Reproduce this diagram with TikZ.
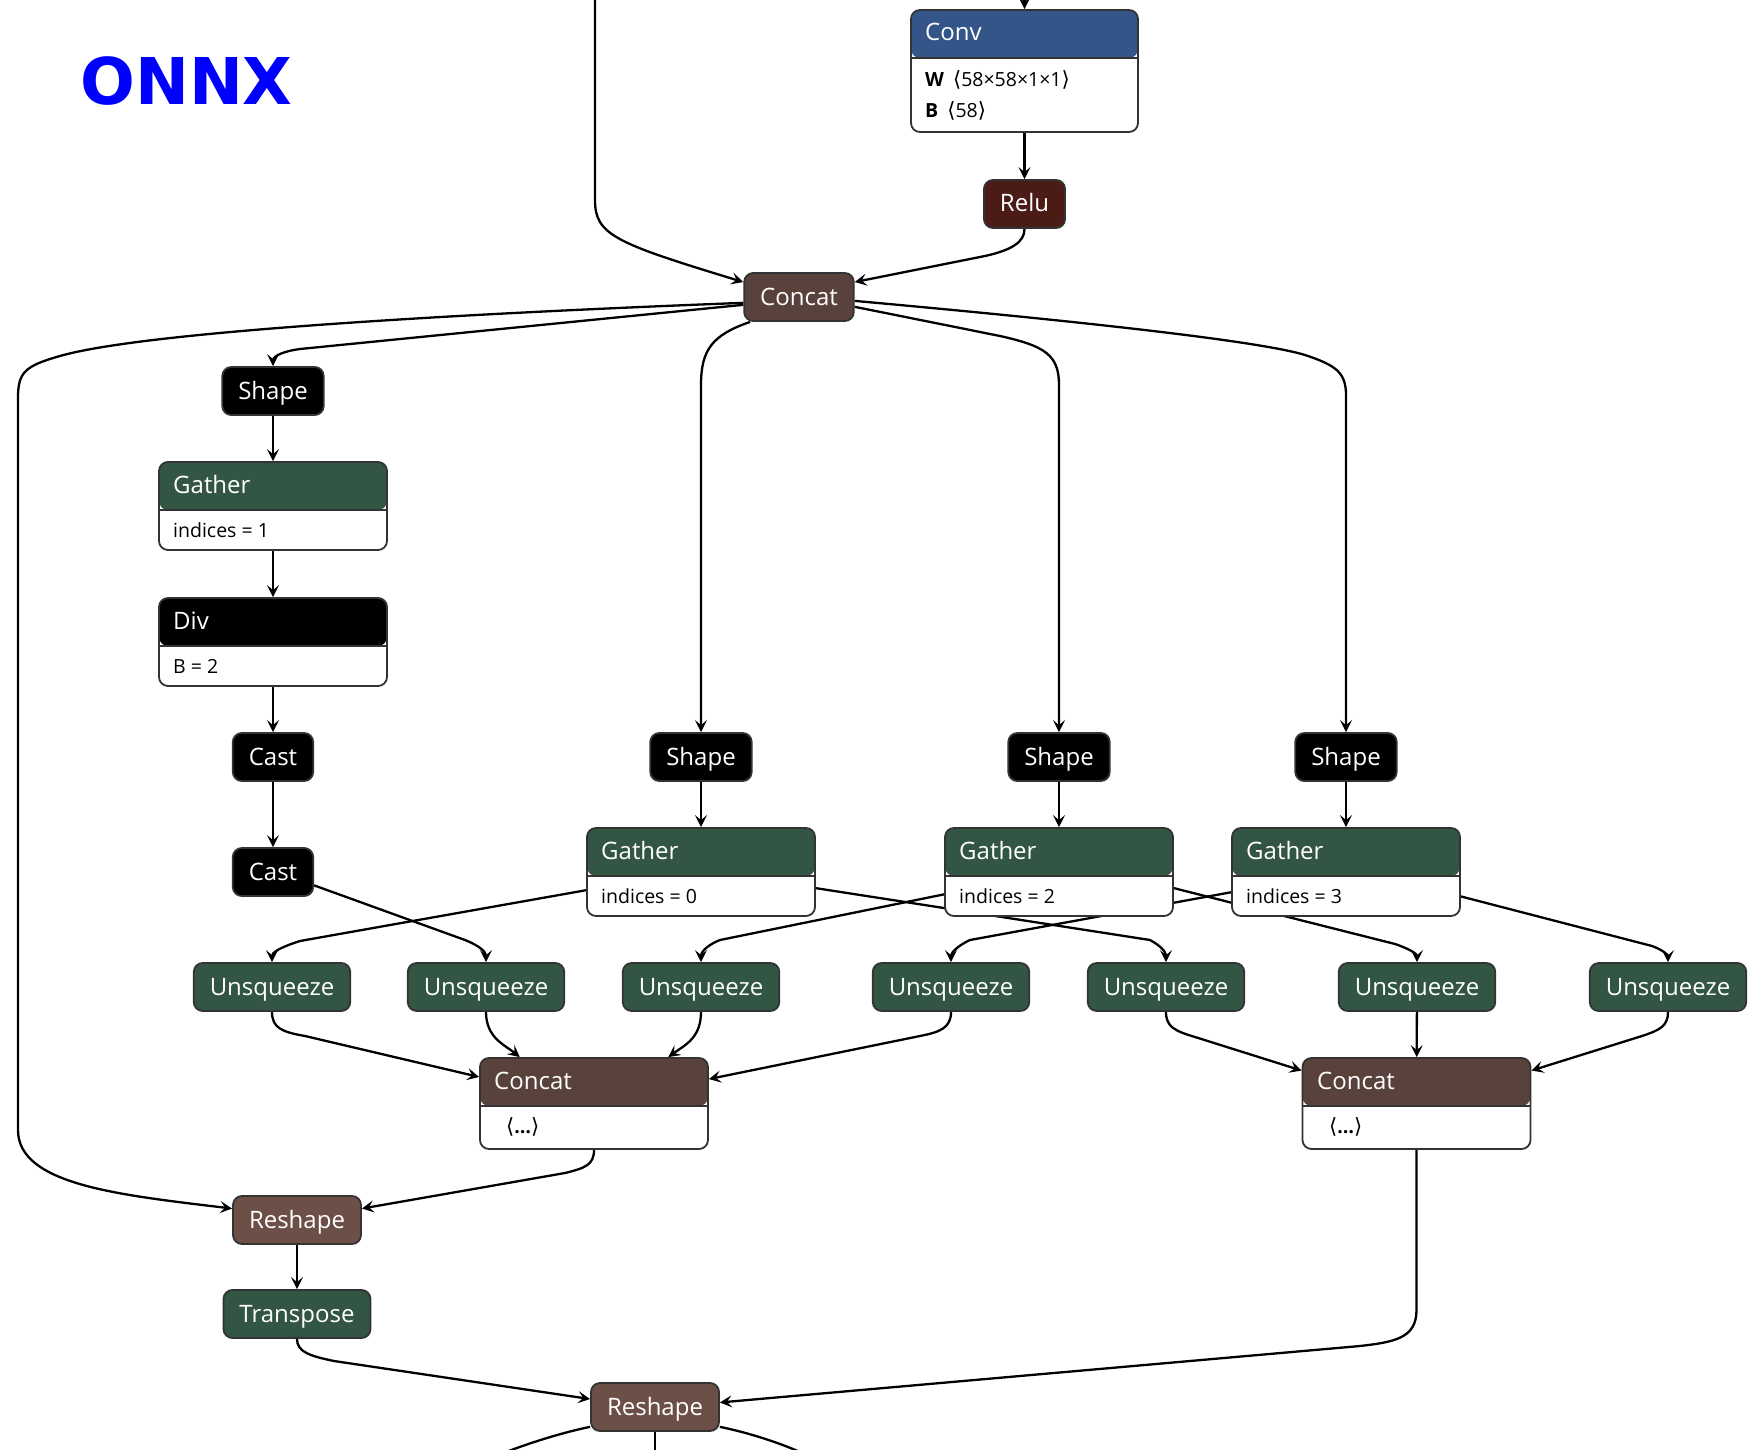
\documentclass[tikz,border=0pt]{standalone}
\usepackage{fontspec}
\setmainfont{Open Sans}
\newfontfamily\symfont{DejaVu Sans}
\newfontfamily\logofont{DejaVu Sans}
\usetikzlibrary{arrows.meta}

\definecolor{convcol}{RGB}{51,85,136}
\definecolor{relucol}{RGB}{75,27,22}
\definecolor{tensorcol}{RGB}{89,66,59}
\definecolor{reshapecol}{RGB}{108,79,71}
\definecolor{transcol}{RGB}{51,85,68}
\definecolor{bordercol}{RGB}{51,51,51}

\pgfdeclarelayer{background}
\pgfsetlayers{background,main}

\newcommand{\lbr}{{\symfont\fontsize{21}{23}\selectfont ⟨}}
\newcommand{\rbr}{{\symfont\fontsize{21}{23}\selectfont ⟩}}

\begin{document}
\begin{tikzpicture}[x=1pt, y=-1pt]
	\tikzset{unit/.style={draw=bordercol, line width=1.8pt, rounded corners=9pt, minimum height=48pt, inner xsep=16pt, inner ysep=0pt, text=white, font=\fontsize{24}{28}\selectfont, text height=21pt, text depth=5pt},
		block/.style={draw=bordercol, line width=1.8pt, rounded corners=9pt, fill=white, inner sep=0pt, minimum width=228pt, minimum height=88pt,
			path picture={\fill[#1] (path picture bounding box.north west) rectangle ([yshift=-48pt]path picture bounding box.north east);
				\draw[bordercol, line width=1.8pt] ([yshift=-48pt]path picture bounding box.north west) -- ([yshift=-48pt]path picture bounding box.north east);}},
		hdtxt/.style={anchor=base west, inner sep=0pt, text=white, font=\fontsize{24}{28}\selectfont},
		attrtxt/.style={anchor=base west, inner sep=0pt, text=black, font=\fontsize{19.5}{23}\selectfont},
		arr/.style={line width=2.3pt, -{Stealth[length=12pt, width=12pt, inset=5pt]}},
		wire/.style={line width=2.3pt}};

	\useasboundingbox (0,0) rectangle (1764,1450);

	\node[anchor=base west, inner sep=0pt, text=blue, font=\logofont\bfseries\fontsize{64.5}{70}\selectfont] (logo) at (80,105) {ONNX};

	% top part
	\node[block=convcol, minimum width=227pt, minimum height=122pt] (conv) at (1024.5,71) {};
	\node[hdtxt] (convt) at (925,41) {Conv};
	\node[attrtxt] (convw) at (925,87) {\textbf{W}\hspace{9pt}\lbr58×58×1×1\rbr};
	\node[attrtxt] (convb) at (925,118) {\textbf{B}\hspace{9pt}\lbr58\rbr};
	\node[unit, fill=relucol] (relu) at (1024.5,204) {Relu};
	\node[unit, fill=tensorcol] (c1) at (799,297) {Concat};

	% left branch
	\node[unit, fill=black] (sh1) at (273,391) {Shape};
	\node[block=transcol] (g1) at (273,506) {};
	\node[hdtxt] (g1t) at (173,493) {Gather};
	\node[attrtxt] (g1a) at (173,537) {indices = 1};
	\node[block=black] (div) at (273,642) {};
	\node[hdtxt] (divt) at (173,629) {Div};
	\node[attrtxt] (diva) at (173,673) {B = 2};
	\node[unit, fill=black] (ca1) at (273,757) {Cast};
	\node[unit, fill=black] (ca2) at (273,872) {Cast};

	% shape / gather columns
	\node[unit, fill=black] (sh2) at (701,757) {Shape};
	\node[unit, fill=black] (sh3) at (1059,757) {Shape};
	\node[unit, fill=black] (sh4) at (1346,757) {Shape};
	\node[block=transcol] (g2) at (701,872) {};
	\node[hdtxt] (g2t) at (601,859) {Gather};
	\node[attrtxt] (g2a) at (601,903) {indices = 0};
	\node[block=transcol] (g3) at (1059,872) {};
	\node[hdtxt] (g3t) at (959,859) {Gather};
	\node[attrtxt] (g3a) at (959,903) {indices = 2};
	\node[block=transcol] (g4) at (1346,872) {};
	\node[hdtxt] (g4t) at (1246,859) {Gather};
	\node[attrtxt] (g4a) at (1246,903) {indices = 3};

	% unsqueeze row
	\node[unit, fill=transcol] (u1) at (272,987) {Unsqueeze};
	\node[unit, fill=transcol] (u2) at (486,987) {Unsqueeze};
	\node[unit, fill=transcol] (u3) at (701,987) {Unsqueeze};
	\node[unit, fill=transcol] (u4) at (951,987) {Unsqueeze};
	\node[unit, fill=transcol] (u5) at (1166,987) {Unsqueeze};
	\node[unit, fill=transcol] (u6) at (1417,987) {Unsqueeze};
	\node[unit, fill=transcol] (u7) at (1668,987) {Unsqueeze};

	\node[block=tensorcol, minimum height=91pt] (cc2) at (594,1103.5) {};
	\node[hdtxt] (cc2t) at (494,1089) {Concat};
	\node[attrtxt] (cc2a) at (506,1133) {\lbr\textbf{…}\rbr};
	\node[block=tensorcol, minimum height=91pt] (cc3) at (1416.5,1103.5) {};
	\node[hdtxt] (cc3t) at (1317,1089) {Concat};
	\node[attrtxt] (cc3a) at (1329,1133) {\lbr\textbf{…}\rbr};

	% bottom part
	\node[unit, fill=reshapecol] (r1) at (297,1220) {Reshape};
	\node[unit, fill=transcol] (tr) at (297,1314) {Transpose};
	\node[unit, fill=reshapecol] (r2) at (655,1407) {Reshape};

	\coordinate (in0) at (595,0);
	\coordinate (in1) at (1024.5,0);
	\coordinate (o1) at (506,1452);
	\coordinate (o2) at (655,1452);
	\coordinate (o3) at (800,1452);

	\begin{pgfonlayer}{background}
		\fill[white] (0,0) rectangle (1764,1450);

		\draw[arr] (in0) -- (595,200) .. controls (595,235) and (615,243) .. (c1.165);
		\draw[arr] (in1) -- (conv.north);
		\draw[arr] (conv.south) -- (relu.north);
		\draw[arr] (relu.south) .. controls (1024.5,242) and (1012,250) .. (985,256) -- (c1.15);

		\draw[arr] (c1.186) .. controls (500,312) and (150,330) .. (60,356) .. controls (25,366) and (18,372) .. (18,398) -- (18,1130) .. controls (18,1185) and (120,1195) .. (r1.170);
		\draw[arr] (c1.188) -- (300,349) .. controls (278,352) and (273,358) .. (sh1.north);
		\draw[arr] (c1.207) .. controls (712,335) and (701,350) .. (701,385) -- (sh2.north);
		\draw[arr] (c1.350) -- (1000,336) .. controls (1045,346) and (1059,355) .. (1059,385) -- (sh3.north);
		\draw[arr] (c1.356) .. controls (1000,314) and (1250,338) .. (1305,355) .. controls (1335,365) and (1346,372) .. (1346,395) -- (sh4.north);

		\draw[arr] (sh1) to (g1);
		\draw[arr] (g1) to (div);
		\draw[arr] (div) to (ca1);
		\draw[arr] (ca1) to (ca2);
		\draw[arr] (sh2) to (g2);
		\draw[arr] (sh3) to (g3);
		\draw[arr] (sh4) to (g4);

		\draw[arr] (ca2.342) -- (465,940) .. controls (480,946) and (486,952) .. (u2.north);
		\draw[arr] (g2.189) -- (300,941) .. controls (278,948) and (272,953) .. (u1.north);
		\draw[arr] (g2.352) -- (1150,940) .. controls (1161,946) and (1166,952) .. (u5.north);
		\draw[arr] (g3.191) -- (720,940) .. controls (705,946) and (701,953) .. (u3.north);
		\draw[arr] (g3.352) -- (1395,944) .. controls (1410,949) and (1417,954) .. (u6.north);
		\draw[arr] (g4.190) -- (970,940) .. controls (957,946) and (951,953) .. (u4.north);
		\draw[arr] (g4.348) -- (1652,946) .. controls (1663,950) and (1668,955) .. (u7.north);

		\draw[arr] (u1.south) .. controls (272,1028) and (282,1032) .. (305,1036) -- (cc2.167);
		\draw[arr] (u2.south) .. controls (486,1038) and (505,1045) .. (cc2.148);
		\draw[arr] (u3.south) .. controls (701,1038) and (685,1045) .. (cc2.32);
		\draw[arr] (u4.south) .. controls (951,1028) and (940,1032) .. (920,1036) -- (cc2.12);
		\draw[arr] (u5.south) .. controls (1166,1027) and (1175,1031) .. (1195,1037) -- (cc3.164);
		\draw[arr] (u6) to (cc3);
		\draw[arr] (u7.south) .. controls (1668,1026) and (1660,1030) .. (1642,1036) -- (cc3.16);

		\draw[arr] (cc2.south) .. controls (594,1165) and (585,1168) .. (565,1173) -- (r1.10);
		\draw[arr] (r1) to (tr);
		\draw[arr] (tr.south) .. controls (297,1352) and (310,1356) .. (334,1361) -- (r2.173);
		\draw[arr] (cc3.south) -- (1416.5,1310) .. controls (1416.5,1338) and (1395,1342) .. (1360,1346) -- (r2.4);

		\draw[wire] (r2.197) .. controls (565,1432) and (535,1441) .. (o1);
		\draw[wire] (r2.south) -- (o2);
		\draw[wire] (r2.343) .. controls (745,1432) and (775,1441) .. (o3);
	\end{pgfonlayer}
\end{tikzpicture}
\end{document}
